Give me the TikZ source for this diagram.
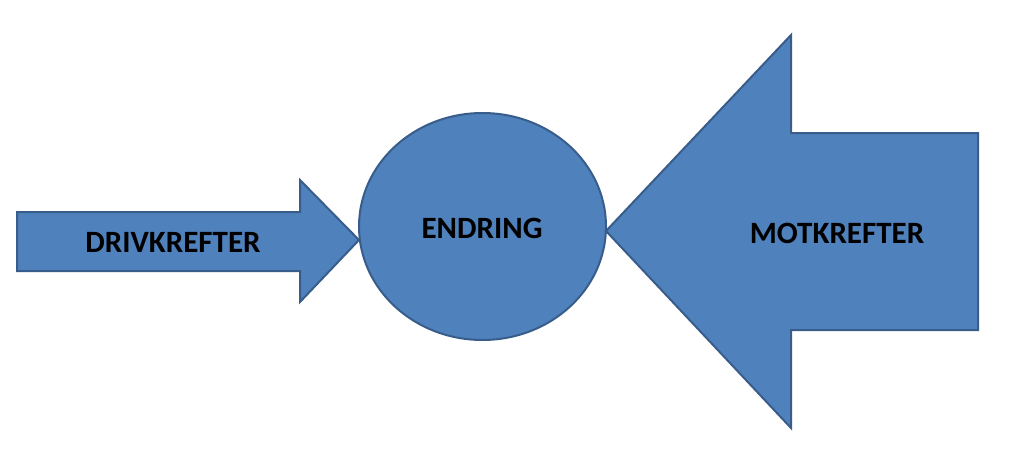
\documentclass[tikz,border=0pt]{standalone}
\usepackage{fontspec}
\setmainfont{Carlito}
\usepackage{tikz}
\usetikzlibrary{shapes.geometric}
\definecolor{shapeblue}{HTML}{4F81BD}
\definecolor{edgeblue}{HTML}{385D8A}

\begin{document}
\begin{tikzpicture}[
  x=1pt,y=-1pt,
  blok/.style={draw=edgeblue,fill=shapeblue,line width=2pt,line join=miter},
  lbl/.style={font=\fontsize{31}{36}\selectfont\bfseries,text=black,inner sep=0pt}
]
\useasboundingbox (0,0) rectangle (1023,469);

% drivende pil
\draw[blok] (17,212) -- (300,212) -- (300,180) -- (359,240)
  -- (300,302) -- (300,271) -- (17,271) -- cycle;
\node[lbl] (driv) at (173,242) {DRIVKREFTER};

% endring
\node[blok,ellipse,minimum width=247,minimum height=227,inner sep=0pt]
  (endring) at (482.5,226.5) {};
\node[lbl] (endr) at (482,228) {ENDRING};

% motvirkende pil
\draw[blok] (978,133) -- (791,133) -- (791,35) -- (606,231)
  -- (791,428) -- (791,330) -- (978,330) -- cycle;
\node[lbl] (mot) at (837,233.5) {MOTKREFTER};
\end{tikzpicture}
\end{document}
